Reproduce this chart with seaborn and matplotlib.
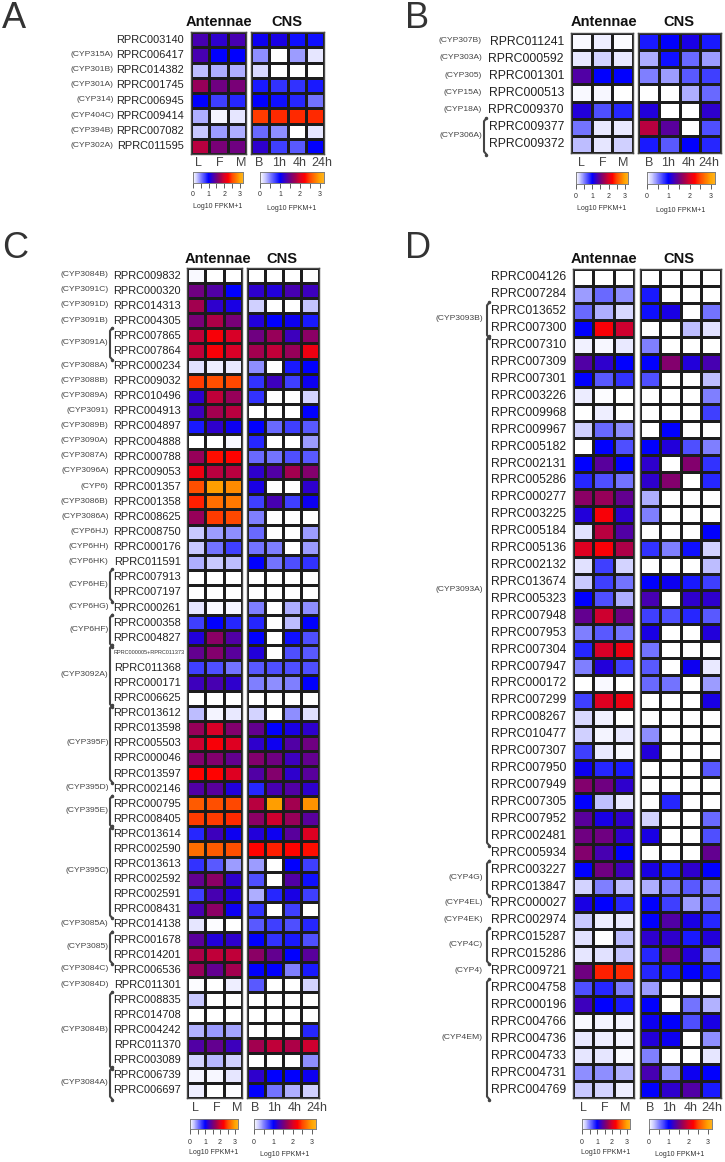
import numpy as np
import pandas as pd
import seaborn as sns
import matplotlib
matplotlib.use("Agg")
import matplotlib.pyplot as plt
from matplotlib.colors import LinearSegmentedColormap

W, H = 725, 1162
VMAX = 3.2

antennae_cols = ["L", "F", "M"]
cns_cols = ["B", "1h", "4h", "24h"]

genes_A = ["RPRC003140","RPRC006417","RPRC014382","RPRC001745","RPRC006945","RPRC009414","RPRC007082","RPRC011595"]
families_A = [("(CYP315A)",1,1,0),("(CYP301B)",2,2,0),("(CYP301A)",3,3,0),("(CYP314)",4,4,0),("(CYP404C)",5,5,0),("(CYP394B)",6,6,0),("(CYP302A)",7,7,0)]
antennae_A = [[1.3,1.2,1.3],[1.3,1.0,1.0],[.3,.35,.35],[1.7,1.5,1.55],[1.0,.75,.85],[.35,.05,.12],[.25,.4,.35],[1.85,1.55,1.5]]
cns_A = [[1.05,1.1,.95,.95],[.45,0,.4,.12],[.18,0,0,0],[.9,.8,.8,.9],[1.0,.95,.85,.55],[2.45,2.4,2.4,2.4],[.6,.45,0,.12],[1.2,.75,.65,1.0]]

genes_B = ["RPRC011241","RPRC000592","RPRC001301","RPRC000513","RPRC009370","RPRC009377","RPRC009372"]
families_B = [("(CYP307B)",0,0,0),("(CYP303A)",1,1,0),("(CYP305)",2,2,0),("(CYP15A)",3,3,0),("(CYP18A)",4,4,0),("(CYP306A)",5,6,1)]
antennae_B = [[.03,.08,.02],[.1,.2,.1],[1.35,1.0,1.0],[.03,.04,0],[1.15,.7,.85],[.55,.1,.1],[.3,.12,.22]]
cns_B = [[.9,1.0,1.1,.9],[.35,.95,.6,.4],[.5,.4,.65,.75],[0,0,.35,.6],[1.15,0,0,1.2],[1.85,1.4,0,.7],[.9,.65,1.0,.85]]

genes_C = ["RPRC009832","RPRC000320","RPRC014313","RPRC004305","RPRC007865","RPRC007864","RPRC000234","RPRC009032","RPRC010496","RPRC004913","RPRC004897","RPRC004888","RPRC000788","RPRC009053","RPRC001357","RPRC001358","RPRC008625","RPRC008750","RPRC000176","RPRC011591","RPRC007913","RPRC007197","RPRC000261","RPRC000358","RPRC004827","RPRC000005+RPRC011373","RPRC011368","RPRC000171","RPRC006625","RPRC013612","RPRC013598","RPRC005503","RPRC000046","RPRC013597","RPRC002146","RPRC000795","RPRC008405","RPRC013614","RPRC002590","RPRC013613","RPRC002592","RPRC002591","RPRC008431","RPRC014138","RPRC001678","RPRC014201","RPRC006536","RPRC011301","RPRC008835","RPRC014708","RPRC004242","RPRC011370","RPRC003089","RPRC006739","RPRC006697"]
families_C = [("(CYP3084B)",0,0,0),("(CYP3091C)",1,1,0),("(CYP3091D)",2,2,0),("(CYP3091B)",3,3,0),("(CYP3091A)",4,5,1),("(CYP3088A)",6,6,0),("(CYP3088B)",7,7,0),("(CYP3089A)",8,8,0),("(CYP3091)",9,9,0),("(CYP3089B)",10,10,0),("(CYP3090A)",11,11,0),("(CYP3087A)",12,12,0),("(CYP3096A)",13,13,0),("(CYP6)",14,14,0),("(CYP3086B)",15,15,0),("(CYP3086A)",16,16,0),("(CYP6HJ)",17,17,0),("(CYP6HH)",18,18,0),("(CYP6HK)",19,19,0),("(CYP6HE)",20,21,1),("(CYP6HG)",22,22,0),("(CYP6HF)",23,24,1),("(CYP3092A)",25,28,1),("(CYP395F)",29,33,1),("(CYP395D)",34,34,0),("(CYP395E)",35,36,1),("(CYP395C)",37,42,1),("(CYP3085A)",43,43,0),("(CYP3085)",44,45,1),("(CYP3084C)",46,46,0),("(CYP3084D)",47,47,0),("(CYP3084B)",48,52,1),("(CYP3084A)",53,54,1)]
antennae_C = [[.03,0,0],[1.5,1.35,1.0],[1.75,1.2,1.1],[1.55,1.8,1.55],[1.9,2.2,2.0],[1.9,2.2,2.0],[.15,.08,.1],[2.45,2.55,2.5],[1.2,1.9,1.7],[1.25,1.75,1.85],[.9,1.2,1.05],[0,0,.04],[1.7,2.3,2.25],[2.15,1.85,1.85],[2.55,2.95,2.85],[2.35,2.7,2.75],[1.7,2.45,2.5],[.25,.4,.45],[.25,.55,.75],[.35,.25,.3],[0,0,0],[0,0,0],[.12,.03,.05],[.75,1.0,.85],[1.15,1.65,1.35],[1.45,1.6,1.4],[.75,.7,.55],[1.25,1.3,1.2],[0,0,.01],[.3,.05,.1],[1.7,2.0,1.6],[1.95,2.2,2.05],[1.6,1.6,1.45],[2.25,2.25,2.05],[1.35,1.4,1.15],[2.6,2.55,2.5],[2.45,2.45,2.4],[.85,1.25,1.05],[2.7,2.6,2.55],[.8,.65,.4],[1.45,1.65,1.2],[.75,1.3,1.15],[1.3,1.65,1.05],[.12,.02,0],[1.4,1.15,1.2],[1.8,1.9,1.9],[1.7,1.45,1.75],[.02,0,.08],[.25,0,0],[0,0,0],[.33,.42,.38],[1.35,1.45,1.25],[.2,.32,.22],[.06,.04,.12],[.08,0,.02]]
cns_C = [[0,0,0,0],[1.2,1.15,1.3,1.25],[.22,0,0,.27],[1.15,1.0,1.05,.9],[1.5,1.7,1.25,1.65],[1.75,1.9,1.7,2.15],[.45,0,.9,1.0],[.8,1.25,.75,1.05],[.8,0,0,.2],[0,0,0,1.0],[1.0,.6,.75,.65],[.85,0,0,.4],[.6,.55,.7,.65],[1.2,1.35,1.75,1.6],[1.1,0,0,1.2],[.75,1.3,.75,1.05],[.5,0,0,0],[.6,0,0,.4],[.55,.5,0,.4],[1.0,.55,.7,.8],[0,0,0,0],[0,0,0,0],[.5,0,.35,.45],[.85,0,.3,1.0],[1.0,0,.95,.7],[1.15,0,.7,.65],[.65,.7,.7,.7],[.5,.45,.5,1.0],[0,0,0,0],[.2,0,.45,.15],[1.45,1.0,1.1,1.2],[1.2,1.05,1.35,1.5],[1.6,1.5,1.25,1.45],[1.35,1.6,1.2,1.4],[.85,1.3,1.35,1.2],[1.85,2.95,1.75,2.9],[1.65,1.95,1.7,1.4],[1.15,1.05,1.4,2.05],[2.25,2.35,2.25,2.3],[.4,0,1.0,.75],[.7,0,1.35,.95],[.35,.85,1.1,.75],[.8,0,.75,0],[.65,.75,.7,.85],[1.0,.8,.9,.7],[1.65,1.45,1.0,1.4],[1.0,1.0,.5,.9],[.65,0,0,.2],[0,0,0,0],[0,0,0,0],[0,0,0,.85],[1.75,1.9,1.8,1.95],[0,0,0,.45],[1.2,1.0,1.0,1.05],[1.0,.55,.35,.22]]

genes_D = ["RPRC004126","RPRC007284","RPRC013652","RPRC007300","RPRC007310","RPRC007309","RPRC007301","RPRC003226","RPRC009968","RPRC009967","RPRC005182","RPRC002131","RPRC005286","RPRC000277","RPRC003225","RPRC005184","RPRC005136","RPRC002132","RPRC013674","RPRC005323","RPRC007948","RPRC007953","RPRC007304","RPRC007947","RPRC000172","RPRC007299","RPRC008267","RPRC010477","RPRC007307","RPRC007950","RPRC007949","RPRC007305","RPRC007952","RPRC002481","RPRC005934","RPRC003227","RPRC013847","RPRC000027","RPRC002974","RPRC015287","RPRC015286","RPRC009721","RPRC004758","RPRC000196","RPRC004766","RPRC004736","RPRC004733","RPRC004731","RPRC004769"]
families_D = [("(CYP3093B)",2,3,1),("(CYP3093A)",4,33,1),("(CYP4G)",35,36,1),("(CYP4EL)",37,37,0),("(CYP4EK)",38,38,0),("(CYP4C)",39,40,1),("(CYP4)",41,41,0),("(CYP4EM)",42,48,1)]
antennae_D = [[0,0,0],[.4,.6,.45],[.6,.35,.18],[1.0,2.2,1.95],[.07,.04,.1],[1.35,1.2,1.0],[1.0,.65,.8],[.09,.02,0],[0,.08,0],[.22,.6,.45],[0,1.0,.7],[1.0,1.4,1.0],[.85,.7,.55],[1.65,1.7,1.45],[1.15,2.2,1.2],[.15,1.85,1.35],[2.05,2.2,1.8],[.15,.75,.2],[.25,.75,.55],[1.0,.7,.35],[1.45,1.95,1.5],[.5,.65,.55],[.85,2.0,2.15],[.5,1.15,.75],[0,.03,0],[.75,2.05,2.15],[.18,.07,0],[.22,.06,.1],[.75,.1,.04],[1.05,.85,.9],[1.6,1.5,1.2],[1.0,.28,.1],[1.4,1.1,1.2],[1.5,1.5,1.2],[1.6,1.3,1.0],[1.0,1.5,1.25],[.2,.5,.3],[1.1,1.0,.85],[.25,.08,.1],[.15,0,.3],[.12,.15,.27],[1.5,2.35,2.4],[.7,.85,.5],[1.25,1.0,.9],[.03,.05,.06],[.1,.08,.06],[.12,.12,.03],[.45,.45,.33],[.25,.2,.08]]
cns_D = [[0,0,0,0],[.9,0,0,0],[.95,1.1,0,.55],[0,0,.3,.15],[.5,0,0,0],[1.0,1.6,1.15,1.3],[.7,0,0,.3],[0,0,0,.5],[0,0,0,.75],[0,1.0,0,0],[1.0,1.15,.7,.5],[1.2,0,1.6,.8],[1.2,1.6,0,.85],[.35,0,0,0],[.5,0,0,0],[0,0,0,1.0],[.8,.5,.95,.2],[0,0,0,.3],[1.0,1.05,.9,.75],[1.3,0,1.2,1.2],[.75,.7,.85,.65],[1.1,0,0,1.15],[.55,0,0,0],[.65,0,1.05,.1],[.6,.55,0,.4],[0,0,0,1.1],[0,0,0,0],[.45,0,0,0],[1.15,0,0,0],[0,0,0,.65],[0,0,0,0],[0,.85,0,0],[.2,0,0,.6],[1.1,0,0,.7],[0,0,0,1.45],[1.1,.9,1.2,1.0],[.35,.5,.65,.5],[1.0,.75,.4,.55],[1.0,1.35,1.1,.85],[1.2,1.2,.9,1.15],[.85,1.5,1.15,.5],[.85,.9,1.0,.9],[.4,0,0,0],[1.0,0,.55,.33],[1.05,1.0,.7,1.1],[1.15,1.05,0,.45],[.5,0,0,.12],[1.3,.45,1.05,1.0],[1.0,1.2,1.35,.9]]

sns.set_theme(style="white")
plt.rcParams["font.family"] = ["Liberation Sans", "DejaVu Sans"]

anchors = [(0,"#ffffff"),(.25,"#c8c8ff"),(.5,"#8080ff"),(.75,"#4040ff"),(1.0,"#0000ff"),(1.25,"#3c00be"),
           (1.5,"#6e0082"),(1.75,"#a00050"),(2.0,"#d70028"),(2.25,"#ff0000"),(2.5,"#ff4600"),(3.0,"#ffa500"),(3.2,"#ffb020")]
cmap = LinearSegmentedColormap.from_list("fpkm", [(v / VMAX, c) for v, c in anchors])

fig = plt.figure(figsize=(W / 100, H / 100), dpi=100)
overlay = fig.add_axes([0, 0, 1, 1], zorder=10)
overlay.set_xlim(0, W)
overlay.set_ylim(H, 0)
overlay.axis("off")
overlay.patch.set_alpha(0)


def px_axes(x0, y0, x1, y1):
    return fig.add_axes([x0 / W, 1 - y1 / H, (x1 - x0) / W, (y1 - y0) / H])


def heat(values, cols, genes, box, label_xs, label_y):
    x0, y0, x1, y1 = box
    ax = px_axes(x0, y0, x1, y1)
    df = pd.DataFrame(values, columns=cols, index=genes)
    sns.heatmap(df, ax=ax, cmap=cmap, vmin=0, vmax=VMAX, cbar=False,
                linewidths=0.8, linecolor="#1c1c1c", xticklabels=False, yticklabels=False)
    ax.set_xlabel("")
    ax.set_ylabel("")
    for s in ax.spines.values():
        s.set_visible(True)
        s.set_color("#4a4a4a")
        s.set_linewidth(1.0)
    for name, lx in zip(cols, label_xs):
        overlay.text(lx, label_y, name, ha="center", va="center", fontsize=9, color="#444444")


def colorbar(box, label_x, label_y, tick_y):
    x0, y0, x1, y1 = box
    host = fig.add_axes([2, 2, .1, .1])
    cax = px_axes(x0, y0, x1, y1)
    grad = pd.DataFrame([[0.0]])
    sns.heatmap(grad, ax=host, cmap=cmap, vmin=0, vmax=VMAX, cbar=True, cbar_ax=cax,
                cbar_kws={"orientation": "horizontal", "ticks": [0, 1, 2, 3]})
    host.set_visible(False)
    cax.minorticks_off()
    cax.set_xticks(np.arange(0, 3.01, .5), minor=False)
    cax.set_xticklabels([])
    cax.tick_params(axis="x", bottom=True, length=3.6, width=.6, color="#444444", direction="out", labelbottom=False)
    for s in cax.spines.values():
        s.set_visible(True)
        s.set_linewidth(.5)
        s.set_color("#777777")
    span = (x1 - x0) * 3 / VMAX
    for t in range(4):
        overlay.text(x0 + span * t / 3, tick_y, str(t), ha="center", va="center", fontsize=5, color="#333333")
    overlay.text(label_x, label_y, "Log10 FPKM+1", ha="center", va="center", fontsize=5, color="#333333")


def panel(letter, letter_xy, genes, families, ant, cns, ant_box, cns_box, gene_right, cyp_right, bracket_x,
          gene_size, titles, ant_lx, cns_lx, label_y, ant_cb, cns_cb, cb_labels, tick_y):
    overlay.text(*letter_xy, letter, fontsize=26, color="#333333", ha="left", va="baseline")
    heat(ant, antennae_cols, genes, ant_box, ant_lx, label_y)
    heat(cns, cns_cols, genes, cns_box, cns_lx, label_y)
    y0, y1 = ant_box[1], ant_box[3]
    rh = (y1 - y0) / len(genes)
    for i, g in enumerate(genes):
        y = y0 + (i + .5) * rh
        if "+" in g:
            overlay.text(gene_right - 67, y, g, ha="left", va="center", fontsize=4, color="#333333")
        else:
            overlay.text(gene_right, y, g, ha="right", va="center", fontsize=gene_size, color="#222222")
    for name, a, b, brace in families:
        y = y0 + (a + b + 1) / 2 * rh - .8
        overlay.text(cyp_right, y, name, ha="right", va="center", fontsize=6.1, color="#444444")
        if brace:
            top, bot = y0 + a * rh, y0 + (b + 1) * rh + 1
            overlay.plot([bracket_x + 2.5, bracket_x, bracket_x, bracket_x + 2.5],
                         [top - .5, top + 2.5, bot - 2.5, bot + .5],
                         color="#444444", lw=1.5, solid_capstyle="round", solid_joinstyle="round")
            overlay.plot([bracket_x + 2.5, bracket_x + 2.5], [top - .5, bot + .5], ls="none", marker="o", ms=1.5, color="#444444")
    for (txt, tx, ty) in titles:
        overlay.text(tx, ty, txt, ha="center", va="center", fontsize=10.5, fontweight="bold", color="#111111")
    colorbar(ant_cb, cb_labels[0][0], cb_labels[0][1], tick_y)
    colorbar(cns_cb, cb_labels[1][0], cb_labels[1][1], tick_y)


panel("A", (2, 28), genes_A, families_A, antennae_A, cns_A, (191, 32, 246, 154), (251, 32, 324, 154), 184, 114, 0, 7.9,
      [("Antennae", 218.5, 22.5), ("CNS", 287, 22.5)], [198, 220, 240.7], [259, 279, 300, 322], 163,
      (193, 172, 243, 183), (260, 172, 324, 183), [(218, 207), (292, 209)], 195)
panel("B", (405, 28), genes_B, families_B, antennae_B, cns_B, (571, 33, 633, 153), (638, 33, 721, 153), 564, 482, 484, 8.8,
      [("Antennae", 604, 22.5), ("CNS", 679, 22.5)], [581, 603, 623], [649, 668, 689, 709], 163,
      (576, 172, 628, 184), (647, 172, 715, 184), [(602, 209), (681, 211)], 196)
panel("C", (2, 258), genes_C, families_C, antennae_C, cns_C, (187, 268, 242, 1098), (247, 268, 319, 1098), 181, 108.7, 110, 7.9,
      [("Antennae", 218, 259), ("CNS", 282, 259)], [195, 217, 237], [255, 274, 295, 317], 1108,
      (190, 1119, 238, 1129), (254, 1119, 316, 1129), [(214, 1153), (285, 1155)], 1142)
panel("D", (405, 258), genes_D, families_D, antennae_D, cns_D, (573, 269, 634, 1098), (640, 269, 721, 1098), 566, 483, 487, 8.7,
      [("Antennae", 603.7, 259), ("CNS", 679, 259)], [583, 605, 625], [650, 669, 691, 712], 1108,
      (582, 1119, 630, 1129), (649, 1119, 712, 1129), [(605.5, 1153), (680, 1154)], 1142)

fig.savefig("out.png", dpi=100, facecolor="white")
